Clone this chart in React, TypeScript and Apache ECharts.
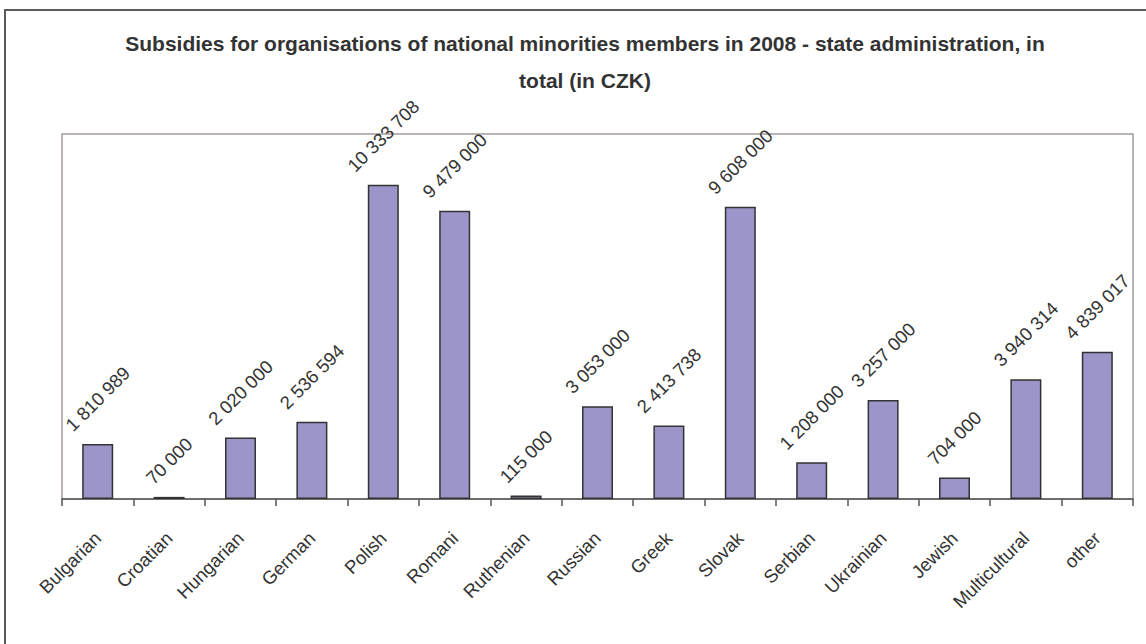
import React, { useEffect, useRef } from "react";
import * as echarts from "echarts";

const categories = [
  "Bulgarian", "Croatian", "Hungarian", "German", "Polish", "Romani", "Ruthenian",
  "Russian", "Greek", "Slovak", "Serbian", "Ukrainian", "Jewish", "Multicultural", "other",
];
const subsidies = [
  1810989, 70000, 2020000, 2536594, 10333708, 9479000, 115000,
  3053000, 2413738, 9608000, 1208000, 3257000, 704000, 3940314, 4839017,
];
const titleLines = [
  "Subsidies for organisations of national minorities members in 2008 - state administration, in",
  "total (in CZK)",
];

const FONT = "'Liberation Sans', Arial, sans-serif";
const LABEL_SIZE = 18.5;

const fmt = (v: number) => String(v).replace(/\B(?=(\d{3})+(?!\d))/g, " ");

export default function App() {
  const ref = useRef<HTMLDivElement>(null);
  useEffect(() => {
    if (!ref.current) return;
    const chart = echarts.init(ref.current, null, { renderer: "svg" });
    const ctx = document.createElement("canvas").getContext("2d")!;
    ctx.font = `${LABEL_SIZE}px ${FONT}`;
    const data = subsidies.map((v) => {
      const w = ctx.measureText(fmt(v)).width;
      const d = (w + LABEL_SIZE * 0.75) * 0.3536 + 11;
      return { value: v, label: { distance: d } };
    });
    chart.setOption({
      animation: false,
      backgroundColor: "#ffffff",
      graphic: [
        {
          type: "rect",
          shape: { x: 5, y: 10, width: 1300, height: 800 },
          style: { fill: "none", stroke: "#5a5a5a", lineWidth: 2 },
          silent: true,
        },
        ...titleLines.map((t, i) => ({
          type: "text",
          x: 585,
          y: 43 + i * 37,
          style: {
            text: t,
            font: `bold 21px ${FONT}`,
            fill: "#333333",
            align: "center",
            verticalAlign: "middle",
          },
        })),
      ],
      grid: {
        left: 62,
        right: 13,
        top: 134,
        bottom: 145,
        show: true,
        borderColor: "#a39a9a",
        borderWidth: 1.5,
        backgroundColor: "transparent",
      },
      xAxis: {
        type: "category",
        data: categories,
        axisLine: { lineStyle: { color: "#555555", width: 1.5 } },
        axisTick: { show: true, length: 7, lineStyle: { color: "#555555", width: 1.5 } },
        axisLabel: {
          rotate: 45,
          margin: 36,
          color: "#333333",
          fontFamily: FONT,
          fontSize: 18.5,
          interval: 0,
        },
      },
      yAxis: {
        type: "value",
        min: 0,
        max: 12000000,
        show: false,
        splitLine: { show: false },
      },
      series: [
        {
          type: "bar",
          data,
          barWidth: 31,
          itemStyle: { color: "#9b95c9", borderColor: "#333333", borderWidth: 1.5 },
          label: {
            show: true,
            position: "top",
            rotate: 45,
            align: "center",
            verticalAlign: "middle",
            color: "#333333",
            fontFamily: FONT,
            fontSize: LABEL_SIZE,
            formatter: (p: any) => fmt(p.value),
          },
        },
      ],
    });
    return () => chart.dispose();
  }, []);
  return <div ref={ref} style={{ width: 1146, height: 644, position: "absolute", left: 0, top: 0 }} />;
}
